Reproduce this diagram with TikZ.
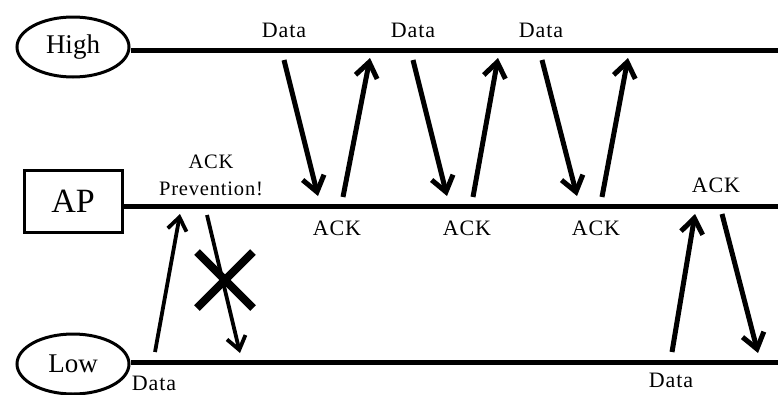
\documentclass[tikz,border=0pt]{standalone}
\usepackage{fontspec}
\setmainfont{Liberation Serif}
\newfontfamily\spacedfont[LetterSpace=4]{Liberation Serif}
\usetikzlibrary{arrows.meta,shapes.geometric}
\begin{document}
\begin{tikzpicture}[x=1pt,y=-1pt,
  lbl/.style={inner sep=0pt,font=\spacedfont\fontsize{22}{24}\selectfont},
  station/.style={ellipse,draw,line width=3pt,minimum width=112pt,minimum height=60pt,inner sep=0pt,font=\fontsize{27}{29}\selectfont},
  medium/.style={line width=5pt},
  msg/.style={line width=5pt,-{Straight Barb[length=15pt,width=22pt]}},
  thinmsg/.style={line width=3.8pt,-{Straight Barb[length=13pt,width=19pt]}},
  cross/.style={line width=8pt}]
\useasboundingbox (0,0) rectangle (778,394);

% stations and access point
\node[station] (high) at (73,47) {High};
\node[draw,line width=3pt,minimum width=98pt,minimum height=62pt,inner sep=0pt,font=\fontsize{34}{36}\selectfont] (ap) at (73,201) {AP};
\node[station] (low) at (73,364) {Low};

% shared medium lines
\coordinate (hEnd) at (778,50);
\coordinate (aEnd) at (778,206);
\coordinate (lEnd) at (778,362);
\draw[medium] (high.east |- hEnd) -- (hEnd);
\draw[medium] (ap.east |- aEnd) -- (aEnd);
\draw[medium] (low.east |- lEnd) -- (lEnd);

% endpoints of exchanges
\coordinate (d1s) at (284,60);  \coordinate (d1e) at (318,196);
\coordinate (a1s) at (343,197); \coordinate (a1e) at (370,58);
\coordinate (d2s) at (413,60);  \coordinate (d2e) at (447,196);
\coordinate (a2s) at (473,197); \coordinate (a2e) at (498,58);
\coordinate (d3s) at (542,60);  \coordinate (d3e) at (577,196);
\coordinate (a3s) at (602,197); \coordinate (a3e) at (628,58);
\coordinate (l1s) at (155,352); \coordinate (l1e) at (180,214);
\coordinate (l2s) at (207,215); \coordinate (l2e) at (240,353);
\coordinate (r1s) at (672,352); \coordinate (r1e) at (695,214);
\coordinate (r2s) at (722,214); \coordinate (r2e) at (758,353);

% high <-> AP exchanges
\draw[msg] (d1s) -- (d1e);
\draw[msg] (a1s) -- (a1e);
\draw[msg] (d2s) -- (d2e);
\draw[msg] (a2s) -- (a2e);
\draw[msg] (d3s) -- (d3e);
\draw[msg] (a3s) -- (a3e);

% low <-> AP exchanges
\draw[thinmsg] (l1s) -- (l1e);
\draw[thinmsg] (l2s) -- (l2e);
\draw[msg] (r1s) -- (r1e);
\draw[msg] (r2s) -- (r2e);

% blocked acknowledgement
\coordinate (xa) at (197,252); \coordinate (xb) at (253,308);
\coordinate (xc) at (197,308); \coordinate (xd) at (253,252);
\draw[cross] (xa) -- (xb);
\draw[cross] (xc) -- (xd);

% labels
\node[lbl] (t1) at (284,30) {Data};
\node[lbl] (t2) at (413,30) {Data};
\node[lbl] (t3) at (541,30) {Data};
\node[lbl] (k1) at (337,228) {ACK};
\node[lbl] (k2) at (467,228) {ACK};
\node[lbl] (k3) at (596,228) {ACK};
\node[lbl] (k4) at (716,185) {ACK};
\node[lbl,align=center,font=\spacedfont\fontsize{20.5}{27}\selectfont] (prev) at (211,175) {ACK\\Prevention!};
\node[lbl] (t4) at (154,383) {Data};
\node[lbl] (t5) at (671,380) {Data};
\end{tikzpicture}
\end{document}
